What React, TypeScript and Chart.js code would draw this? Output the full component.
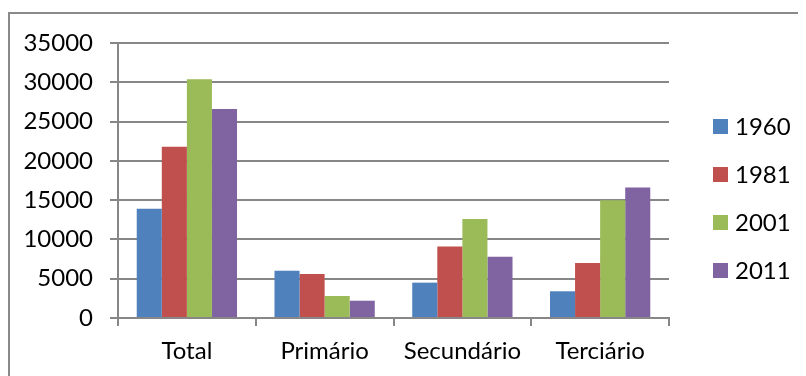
import { useEffect, useRef } from "react";
import { Chart, registerables } from "chart.js";

Chart.register(...registerables);

const categories = ["Total", "Primário", "Secundário", "Terciário"];
const seriesLabels = ["1960", "1981", "2001", "2011"];
const values1960 = [13900, 6000, 4500, 3400];
const values1981 = [21800, 5600, 9100, 7000];
const values2001 = [30400, 2800, 12600, 15000];
const values2011 = [26600, 2200, 7800, 16600];
const seriesColors = ["#4F81BD", "#C0504D", "#9BBB59", "#8064A2"];
const yMin = 0;
const yMax = 35000;
const yStep = 5000;

const FONT = "Lato, 'Open Sans', sans-serif";
const FONT_SIZE = 24;
const GRID = "#878787";

const framePlugin = {
  id: "frame",
  beforeDraw(chart: any) {
    const ctx = chart.ctx;
    ctx.save();
    ctx.strokeStyle = "#8a8a8a";
    ctx.lineWidth = 2;
    ctx.strokeRect(1, 5, chart.width - 2, chart.height + 20);
    ctx.restore();
  },
};

const legendPlugin = {
  id: "sideLegend",
  afterDraw(chart: any) {
    const ctx = chart.ctx;
    const ca = chart.chartArea;
    const x0 = ca.right + 44;
    const cy = (ca.top + ca.bottom) / 2 + 18;
    ctx.save();
    ctx.font = `${FONT_SIZE}px ${FONT}`;
    ctx.textBaseline = "middle";
    ctx.textAlign = "left";
    chart.data.datasets.forEach((ds: any, i: number) => {
      const y = cy + (i - 1.5) * 48;
      ctx.fillStyle = ds.backgroundColor;
      ctx.fillRect(x0, y - 7.5, 15, 15);
      ctx.fillStyle = "#000";
      ctx.fillText(ds.label, x0 + 22, y + 1);
    });
    ctx.restore();
  },
};

export default function App() {
  const ref = useRef<HTMLCanvasElement | null>(null);

  useEffect(() => {
    if (!ref.current) return;
    const seriesValues = [values1960, values1981, values2001, values2011];
    const chart = new Chart(ref.current, {
      type: "bar",
      data: {
        labels: categories,
        datasets: seriesLabels.map((label, i) => ({
          label,
          data: seriesValues[i],
          backgroundColor: seriesColors[i],
          borderWidth: 0,
          barPercentage: 1,
          categoryPercentage: 0.728,
        })),
      },
      options: {
        animation: false,
        responsive: false,
        layout: { padding: { top: 35, right: 137, left: 0, bottom: 0 } },
        plugins: {
          legend: { display: false },
          tooltip: { enabled: false },
        },
        scales: {
          x: {
            afterFit(scale: any) {
              scale.height = 58;
            },
            grid: {
              offset: true,
              drawOnChartArea: false,
              drawTicks: true,
              tickLength: 8,
              color: GRID,
              lineWidth: 2,
            },
            border: { display: true, color: GRID, width: 2 },
            ticks: {
              color: "#000",
              font: { family: FONT, size: FONT_SIZE },
              padding: 11,
              maxRotation: 0,
            },
          },
          y: {
            min: yMin,
            max: yMax,
            afterFit(scale: any) {
              scale.width = 110;
            },
            grid: {
              color: GRID,
              lineWidth: 2,
              tickLength: 8,
              drawTicks: true,
            },
            border: { display: true, color: GRID, width: 2 },
            ticks: {
              stepSize: yStep,
              color: "#000",
              font: { family: FONT, size: FONT_SIZE },
              padding: 17,
              callback: (v: any) => String(v),
            },
          },
        },
      },
      plugins: [framePlugin, legendPlugin],
    });
    return () => chart.destroy();
  }, []);

  return (
    <div style={{ width: 798, height: 368 }}>
      <canvas ref={ref} width={798} height={368} style={{ display: "block" }} />
    </div>
  );
}
